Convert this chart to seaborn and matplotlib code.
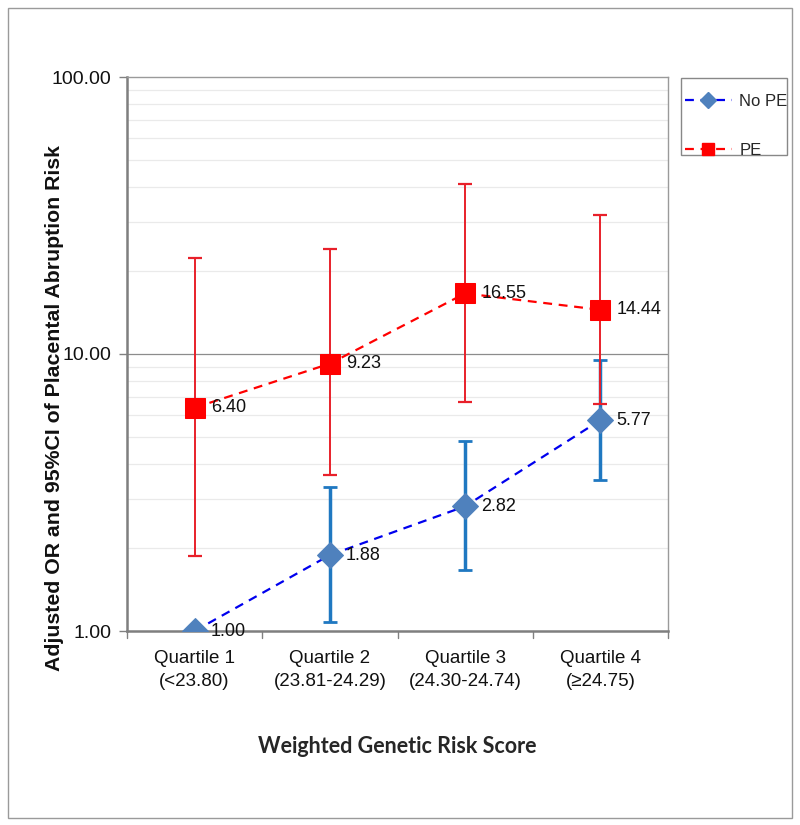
import numpy as np
import pandas as pd
import matplotlib
matplotlib.use("Agg")
import matplotlib.pyplot as plt
from matplotlib.ticker import FixedLocator, FormatStrFormatter, NullFormatter
from matplotlib.patches import Rectangle
from matplotlib.lines import Line2D
import seaborn as sns

categories = ["Quartile 1\n(<23.80)", "Quartile 2\n(23.81-24.29)",
              "Quartile 3\n(24.30-24.74)", "Quartile 4\n(≥24.75)"]
nope_or = [1.00, 1.88, 2.82, 5.77]
nope_lo = [1.00, 1.08, 1.66, 3.50]
nope_hi = [1.00, 3.30, 4.85, 9.50]
pe_or = [6.40, 9.23, 16.55, 14.44]
pe_lo = [1.87, 3.66, 6.71, 6.60]
pe_hi = [22.2, 23.9, 41.1, 31.8]
series_names = ["No PE", "PE"]

sns.set_theme(style="white")
plt.rcParams['font.family'] = ['Liberation Sans', 'DejaVu Sans']

fig = plt.figure(figsize=(8, 8.25), dpi=100)
ax = fig.add_axes([127/800, 1-631/825, (668-127)/800, (631-77)/825])

df = pd.DataFrame({
    "cat": categories * 2,
    "val": nope_or + pe_or,
    "series": [series_names[0]] * 4 + [series_names[1]] * 4,
})

ax.set_yscale("log")
ax.set_ylim(1, 100)
ax.set_xlim(-0.5, 3.5)

# grid
minor = [m * 10**d for d in range(0, 2) for m in range(2, 10)]
for v in minor:
    ax.axhline(v, color="#EAEAEA", lw=0.9, zorder=0)
ax.axhline(10, color="#8C8C8C", lw=0.9, zorder=0.5)

xpos = np.arange(len(categories))

# error bars
ax.errorbar(xpos, nope_or, yerr=[np.array(nope_or) - np.array(nope_lo), np.array(nope_hi) - np.array(nope_or)],
            fmt="none", ecolor="#1F78C1", elinewidth=2.5, capsize=5, capthick=2, zorder=2)
ax.errorbar(xpos, pe_or, yerr=[np.array(pe_or) - np.array(pe_lo), np.array(pe_hi) - np.array(pe_or)],
            fmt="none", ecolor="#E8202A", elinewidth=1.4, capsize=5, capthick=1.6, zorder=3)

sns.lineplot(data=df[df.series == "No PE"], x="cat", y="val", ax=ax, color="#0000EE",
             lw=1.6, linestyle=(0, (4, 3)), marker="D", markersize=13,
             markerfacecolor="#4F81BD", markeredgecolor="#4F81BD", zorder=4,
             sort=False, legend=False)
sns.lineplot(data=df[df.series == "PE"], x="cat", y="val", ax=ax, color="#FF0000",
             lw=1.6, linestyle=(0, (4, 3)), marker="s", markersize=14,
             markerfacecolor="#FF0000", markeredgecolor="#FF0000", zorder=5,
             sort=False, legend=False)

# data labels
for x, v in zip(xpos, nope_or):
    ax.text(x + 0.12, v, f"{v:.2f}", fontsize=13, va="center", ha="left", color="#111111", zorder=6)
for x, v in zip(xpos, pe_or):
    ax.text(x + 0.12, v, f"{v:.2f}", fontsize=13, va="center", ha="left", color="#111111", zorder=6)

ax.yaxis.set_major_locator(FixedLocator([1, 10, 100]))
ax.yaxis.set_major_formatter(FormatStrFormatter("%.2f"))
ax.yaxis.set_minor_formatter(NullFormatter())
ax.tick_params(axis="y", which="minor", length=0)
ax.tick_params(axis="y", which="major", length=6, width=1, color="#808080", direction="out",
               labelsize=14, pad=5, left=True, labelcolor="#111111")
ax.set_xticks(xpos)
ax.set_xticklabels(categories, fontsize=13.5, color="#111111", linespacing=1.45)
ax.tick_params(axis="x", which="major", length=0, pad=14)
for b in [-0.5, 0.5, 1.5, 2.5, 3.5]:
    ax.plot([b, b], [0, -0.012], transform=ax.get_xaxis_transform(), color="#808080", lw=1, clip_on=False)

for s in ["left", "bottom"]:
    ax.spines[s].set_color("#7F7F7F")
    ax.spines[s].set_linewidth(1.8)
for s in ["top", "right"]:
    ax.spines[s].set_color("#9A9A9A")
    ax.spines[s].set_linewidth(1.0)

ax.set_xlabel("Weighted Genetic Risk Score", fontsize=15.5, fontweight="bold",
              family=["Lato", "DejaVu Sans"], labelpad=33)
ax.set_ylabel("")
fig.text(55/800, 1-408/825, "Adjusted OR and 95%CI of Placental Abruption Risk", rotation=90,
         ha="center", va="center", fontsize=15.3, fontweight="bold", color="#111111")

handles = [
    Line2D([], [], color="#0000EE", lw=1.6, linestyle=(0, (4, 3)), marker="D", markersize=8,
           markerfacecolor="#4F81BD", markeredgecolor="#4F81BD"),
    Line2D([], [], color="#FF0000", lw=1.6, linestyle=(0, (4, 3)), marker="s", markersize=8,
           markerfacecolor="#FF0000", markeredgecolor="#FF0000"),
]
leg = fig.legend(handles, series_names, loc="center left", bbox_to_anchor=(685/800, 1-126/825),
                 frameon=False, fontsize=12, handlelength=2.8, labelspacing=2.0,
                 borderpad=0.0, borderaxespad=0.0, handletextpad=0.45)

fig.add_artist(Rectangle((681/800, 1-155/825), 106/800, 77/825, transform=fig.transFigure,
                         fill=False, edgecolor="#888888", lw=1.0))
fig.add_artist(Rectangle((8/800, 1-818/825), 784/800, 810/825, transform=fig.transFigure,
                         fill=False, edgecolor="#9A9A9A", lw=1.0))

fig.savefig("out.png", dpi=100)
